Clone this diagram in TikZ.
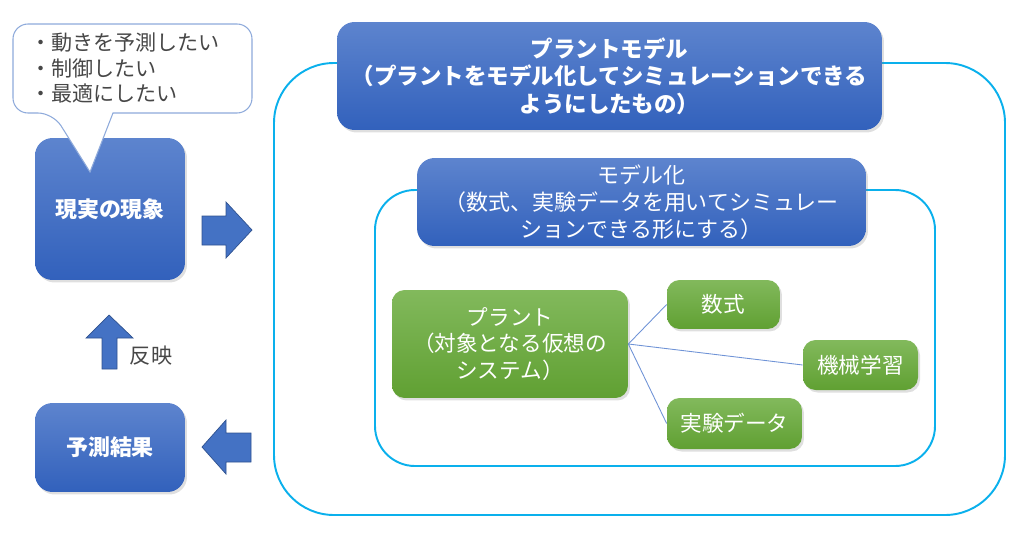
\documentclass[tikz,border=0pt]{standalone}
\usepackage{fontspec}
\setmainfont{Noto Sans CJK JP}
\usetikzlibrary{positioning, shadows}
\definecolor{bluetop}{HTML}{5D84CE}
\definecolor{bluebot}{HTML}{3261BC}
\definecolor{greentop}{HTML}{82B95C}
\definecolor{greenbot}{HTML}{60A032}
\definecolor{frame}{HTML}{0AB0EC}
\definecolor{arrowfill}{HTML}{4472C4}
\definecolor{arrowline}{HTML}{2F528F}
\definecolor{calloutline}{HTML}{8EAADB}
\definecolor{linkline}{HTML}{6F93D6}

\begin{document}
\begin{tikzpicture}[x=0.02cm, y=-0.02cm,
    bluebox/.style={rounded corners=0.35cm, top color=bluetop, bottom color=bluebot,
      text=white, align=center, font=\fontsize{12.5}{15.4}\selectfont,
      drop shadow={opacity=0.25, shadow xshift=0.04cm, shadow yshift=-0.05cm}},
    greenbox/.style={rounded corners=0.25cm, top color=greentop, bottom color=greenbot,
      text=white, align=center, font=\fontsize{12.3}{15}\selectfont,
      drop shadow={opacity=0.25, shadow xshift=0.04cm, shadow yshift=-0.05cm}},
    group/.style={draw=frame, line width=1.1pt},
    blockarrow/.style={fill=arrowfill, draw=arrowline, line width=0.4pt},
    link/.style={draw=linkline, line width=0.5pt}]
  \useasboundingbox (0,0) rectangle (1024,534);

  % frames
  \draw[group, rounded corners=1.2cm] (274,63) rectangle (1005,515);
  \draw[group, rounded corners=0.8cm] (375,190) rectangle (935,466);

  % left column
  \node[bluebox, minimum width=3cm, minimum height=2.84cm] (phenom) at (110,209)
    {\bfseries 現実の現象};
  \node[bluebox, minimum width=3cm, minimum height=1.78cm] (result) at (110,447.5)
    {\bfseries 予測結果};

  % callout
  \draw[fill=white, draw=calloutline, line width=0.6pt]
    (90,172) -- (113,113) [rounded corners=0.3cm] -- (252,113) -- (252,24)
    -- (13,24) -- (13,113) -- (53,113) [sharp corners] -- cycle;
  \node[anchor=west, align=left, text=black!72, font=\fontsize{12}{14.7}\selectfont]
    (wish) at (24,68) {・動きを予測したい\\・制御したい\\・最適にしたい};

  % block arrows
  \draw[blockarrow] (202,216) -- (226,216) -- (226,202) -- (252,230)
    -- (226,258) -- (226,245) -- (202,245) -- cycle;
  \draw[blockarrow] (251,433) -- (226,433) -- (226,420) -- (202,447)
    -- (226,474) -- (226,462) -- (251,462) -- cycle;
  \draw[blockarrow] (102,369) -- (102,338) -- (86,338) -- (109,315)
    -- (133,338) -- (117,338) -- (117,369) -- cycle;
  \node[text=black!72, font=\fontsize{12}{14}\selectfont] (reflect) at (151,356) {反映};

  % plant model
  \node[bluebox, minimum width=10.9cm, minimum height=2.16cm, font=\fontsize{12.8}{15.6}\selectfont]
    (plantmodel) at (609.5,76)
    {\bfseries プラントモデル\\\bfseries （プラントをモデル化してシミュレーションできる\\\bfseries ようにしたもの）};
  \node[bluebox, minimum width=8.98cm, minimum height=1.76cm] (modeling) at (641.5,202)
    {モデル化\\（数式、実験データを用いてシミュレー\\ションできる形にする）};

  % plant and its sources
  \node[greenbox, minimum width=4.72cm, minimum height=2.16cm] (plant) at (510,344)
    {プラント\\（対象となる仮想の\\システム）};
  \node[greenbox, minimum width=2.26cm, minimum height=0.98cm] (formula) at (723.5,304.5) {数式};
  \node[greenbox, minimum width=2.3cm, minimum height=1cm] (ml) at (860.5,365) {機械学習};
  \node[greenbox, minimum width=2.7cm, minimum height=1.02cm] (expdata) at (734.5,423.5) {実験データ};

  \draw[link] (plant.east) -- (formula.west);
  \draw[link] (plant.east) -- (ml.west);
  \draw[link] (plant.east) -- (expdata.west);
\end{tikzpicture}
\end{document}
